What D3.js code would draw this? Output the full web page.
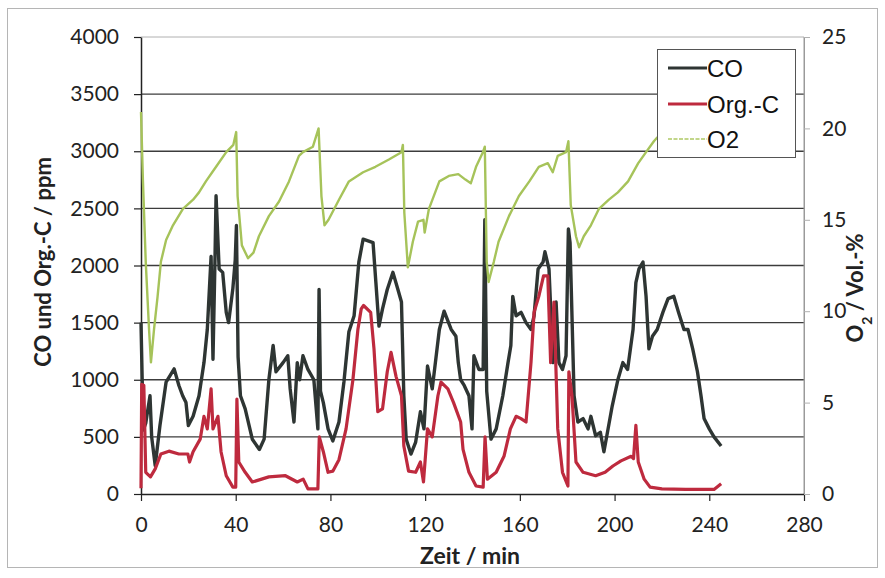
<!DOCTYPE html>
<html>
<head>
<meta charset="utf-8">
<script src="https://cdn.jsdelivr.net/npm/d3@7"></script>
<style>
  body { margin: 0; background: #fff; }
  svg { display: block; }
</style>
</head>
<body>
<div id="container"></div>
<script>
const width = 885;
const height = 578;

// time in min, CO in ppm
const coData = [
  [0,1500],[0.5,1000],[1,560],[2,620],[3.8,860],[4.5,500],[6,250],[8,600],[10.6,980],[14,1095],
  [16,950],[17.6,860],[19,800],[20,600],[22,680],[24.5,860],[26.6,1150],[28,1440],[29.6,2080],[30.4,1180],
  [31.2,2000],[31.7,2610],[33,1970],[34.5,1940],[36,1590],[37,1500],[38.8,1800],[39.8,2050],[40.3,2350],[41,1200],
  [42,860],[44,745],[47,480],[50,390],[52,480],[54,1000],[55.8,1300],[57,1070],[60,1150],[62,1210],
  [63,920],[64.6,630],[66,1150],[67,1000],[68.4,1210],[70.5,1090],[73,1000],[74.7,570],[75.2,1790],[75.8,900],
  [77,800],[79,570],[81,465],[83.6,630],[85.7,980],[87.8,1420],[90,1560],[92,2030],[93.8,2230],[98,2200],
  [99.2,1850],[100.5,1470],[102,1620],[104,1790],[106.4,1940],[108.5,1790],[110,1680],[111,860],[112,480],[114,350],
  [116,455],[118,720],[119.5,570],[121,1120],[123,920],[126,1440],[128,1600],[131,1440],[133,1380],[134,1150],
  [135,1000],[136.5,950],[138.5,860],[139.8,570],[140.6,1210],[142.7,1090],[144.5,1090],[145.2,2400],[146,900],[147.8,480],
  [150,570],[152.8,860],[155,1150],[156.2,1300],[157,1730],[158.4,1560],[160.5,1590],[162.6,1500],[164.7,1440],[166,1560],
  [167.7,1970],[169.8,2030],[170.6,2120],[172.3,1970],[174,1150],[175.3,1680],[176.5,1150],[178,1090],[179.5,1210],[180.5,2320],
  [181.2,2200],[182.9,860],[184.5,630],[186.7,660],[188.8,570],[190,680],[192,510],[194,540],[195.5,370],[197,540],
  [199,770],[201.4,1000],[203.5,1150],[205.5,1090],[207.8,1440],[209,1850],[210.3,1970],[212,2030],[213.3,1730],[214.5,1270],
  [216,1380],[218,1440],[220.4,1590],[222.6,1710],[225,1730],[227,1590],[229.3,1440],[231,1440],[233,1270],[235,1070],
  [236.5,860],[237.8,660],[240,570],[242,500],[245,420]
];

// time in min, Org.-C in ppm
const orgData = [
  [0,50],[0.3,960],[1.2,950],[2,190],[4,150],[6,220],[8.4,350],[11.8,375],[16,350],[19.8,350],
  [20.5,280],[22,370],[25,480],[26.6,680],[28,570],[29.6,920],[30.4,570],[32.5,680],[33.8,370],[36,160],
  [38.8,60],[40,60],[40.5,830],[41.3,280],[44,190],[47,105],[54,150],[61,160],[66,105],[68.5,130],
  [70.5,45],[74.7,45],[75.3,500],[77,370],[79,190],[81,200],[83.6,300],[86.6,570],[89.5,1000],[91.6,1440],
  [93,1620],[94,1650],[97,1590],[98.4,1270],[100,720],[102,745],[104,1070],[105.6,1240],[107.7,1030],[110,860],
  [111,420],[113,200],[116,190],[118,280],[119.3,105],[121,570],[123,500],[125.4,860],[126.7,980],[129.6,920],
  [132,800],[135,630],[136,390],[138.5,190],[141.5,70],[144.5,60],[145.3,500],[146.3,130],[150,190],[153.3,330],
  [156,570],[158.4,680],[160.5,660],[162.6,630],[164.7,1150],[166,1590],[168,1730],[170,1910],[171.8,1910],[173,1150],
  [174.4,1680],[176,570],[178,190],[180.3,70],[180.7,1070],[182,860],[183.7,280],[186.7,190],[192,160],[196,190],
  [199.3,245],[202.7,290],[207,330],[208,310],[209,600],[210,280],[212.5,130],[215,60],[220,45],[230,40],
  [242,40],[245,90]
];

// time in min, O2 in Vol.-%
const o2Data = [
  [0,20.9],[0.8,17.2],[2,12.7],[3.4,9.0],[4.2,7.2],[5.5,9.0],[7,10.8],[8.4,12.7],[10.6,13.9],[13.5,14.7],
  [17.7,15.6],[22,16.1],[24.5,16.5],[27.4,17.1],[31.7,17.9],[36,18.7],[39,19.1],[40.2,19.8],[40.8,16.3],[42.6,13.6],
  [45.2,12.9],[47.5,13.2],[49.8,14.1],[54,15.2],[58.3,16.0],[62.5,17.1],[66.7,18.5],[68.4,18.7],[72.6,19.0],[75,20.0],
  [76.2,16.3],[77.5,14.7],[79.2,15.0],[83.6,16.1],[87.8,17.1],[93.8,17.6],[99,17.9],[104.7,18.3],[110,18.7],[110.6,19.1],
  [111.2,15.4],[112.7,12.4],[114.8,13.8],[117,14.9],[119.3,15.0],[119.8,14.3],[121.6,15.6],[126,17.1],[130,17.4],[134,17.5],
  [137,17.2],[139.3,17.0],[141.5,17.9],[144.4,18.7],[145.2,19.0],[146,12.7],[146.8,11.6],[149,12.7],[151,13.8],[155.4,15.2],
  [159.6,16.3],[164,17.1],[168,17.9],[171.8,18.1],[173.9,17.6],[176,18.5],[179.5,18.7],[180.5,19.3],[181.5,15.8],[183.7,14.1],
  [185,13.5],[187,14.1],[190,14.7],[193.4,15.6],[197.6,16.1],[201.4,16.5],[205.7,17.1],[210,18.1],[213.3,18.7],[216.6,19.3],
  [218,19.5],[224,19.9]
];

const xTicks = [0, 40, 80, 120, 160, 200, 240, 280];
const yLeftTicks = [0, 500, 1000, 1500, 2000, 2500, 3000, 3500, 4000];
const yRightTicks = [0, 5, 10, 15, 20, 25];

const series = [
  { name: "CO", data: coData, color: "#2e3533", width: 3.4, axis: "left" },
  { name: "Org.-C", data: orgData, color: "#be2a3e", width: 3.2, axis: "left" },
  { name: "O2", data: o2Data, color: "#a6c35a", width: 2.4, axis: "right" }
];

const plot = { left: 141, right: 804, top: 37, bottom: 494 };

const x = d3.scaleLinear().domain([0, 280]).range([plot.left, plot.right]);
const yL = d3.scaleLinear().domain([0, 4000]).range([plot.bottom, plot.top]);
const yR = d3.scaleLinear().domain([0, 25]).range([plot.bottom, plot.top]);

const svg = d3.select("#container")
  .append("svg")
  .attr("width", width)
  .attr("height", height)
  .attr("viewBox", [0, 0, width, height]);

svg.append("rect").attr("width", width).attr("height", height).attr("fill", "#fff");

// outer chart frame
svg.append("rect")
  .attr("x", 7.5).attr("y", 8.5)
  .attr("width", 870).attr("height", 559)
  .attr("fill", "none")
  .attr("stroke", "#b5b5b5");

// horizontal grid
svg.append("g")
  .selectAll("line")
  .data(yLeftTicks.filter(d => d > 0))
  .join("line")
  .attr("x1", plot.left).attr("x2", plot.right)
  .attr("y1", d => yL(d)).attr("y2", d => yL(d))
  .attr("stroke", d => d === 4000 ? "#b0b0b0" : "#3c3c3c")
  .attr("stroke-width", d => d === 4000 ? 1 : 1.4);

// right border of plot
svg.append("line")
  .attr("x1", plot.right).attr("x2", plot.right)
  .attr("y1", plot.top).attr("y2", plot.bottom)
  .attr("stroke", "#9a9a9a");

const tickFont = "Lato, 'Open Sans', sans-serif";
const fmt = d3.format("d");

const gLeft = svg.append("g")
  .attr("transform", `translate(${plot.left},0)`)
  .call(d3.axisLeft(yL).tickValues(yLeftTicks).tickFormat(fmt).tickSize(7).tickPadding(15).tickSizeOuter(0));

const gBottom = svg.append("g")
  .attr("transform", `translate(0,${plot.bottom})`)
  .call(d3.axisBottom(x).tickValues(xTicks).tickFormat(fmt).tickSize(7).tickPadding(16).tickSizeOuter(0));

const gRight = svg.append("g")
  .attr("transform", `translate(${plot.right},0)`)
  .call(d3.axisRight(yR).tickValues(yRightTicks).tickFormat(fmt).tickSize(6).tickPadding(12).tickSizeOuter(0));

[gLeft, gBottom, gRight].forEach(g => {
  g.selectAll("text")
    .attr("font-family", tickFont)
    .attr("font-size", 21)
    .attr("fill", "#222");
});
gLeft.select(".domain").attr("stroke", "#222").attr("stroke-width", 1.5);
gLeft.selectAll(".tick line").attr("stroke", "#222").attr("stroke-width", 1.2);
gBottom.select(".domain").attr("stroke", "#222").attr("stroke-width", 1.5);
gBottom.selectAll(".tick line").attr("stroke", "#222").attr("stroke-width", 1.2);
gRight.select(".domain").attr("stroke", "#9a9a9a");
gRight.selectAll(".tick line").attr("stroke", "#b0b0b0");

// series
series.forEach(s => {
  const y = s.axis === "left" ? yL : yR;
  const line = d3.line().x(d => x(d[0])).y(d => y(d[1]));
  svg.append("path")
    .datum(s.data)
    .attr("fill", "none")
    .attr("stroke", s.color)
    .attr("stroke-width", s.width)
    .attr("stroke-linejoin", "round")
    .attr("d", line);
});

// axis titles
const titleFont = "Lato, 'Open Sans', sans-serif";

svg.append("text")
  .attr("transform", "translate(43,262) rotate(-90)")
  .attr("text-anchor", "middle")
  .attr("dy", "0.35em")
  .attr("font-family", titleFont)
  .attr("font-weight", "bold")
  .attr("font-size", 22)
  .attr("fill", "#222")
  .text("CO und Org.-C / ppm");

const rt = svg.append("text")
  .attr("transform", "translate(855,288) rotate(-90)")
  .attr("text-anchor", "middle")
  .attr("dy", "0.35em")
  .attr("font-family", titleFont)
  .attr("font-weight", "bold")
  .attr("font-size", 22)
  .attr("fill", "#222");
rt.append("tspan").text("O");
rt.append("tspan").attr("font-size", 14).attr("baseline-shift", "sub").text("2");
rt.append("tspan").text(" / Vol.-%");

svg.append("text")
  .attr("x", 470).attr("y", 556)
  .attr("text-anchor", "middle")
  .attr("dy", "0.35em")
  .attr("font-family", titleFont)
  .attr("font-weight", "bold")
  .attr("font-size", 23)
  .attr("fill", "#222")
  .text("Zeit / min");

// legend
const legend = svg.append("g");
legend.append("rect")
  .attr("x", 657.5).attr("y", 49.5)
  .attr("width", 138).attr("height", 108)
  .attr("fill", "#fff")
  .attr("stroke", "#555");

const legendY = [68, 104, 139];
series.forEach((s, i) => {
  legend.append("line")
    .attr("x1", 668).attr("x2", 707)
    .attr("y1", legendY[i]).attr("y2", legendY[i])
    .attr("stroke", s.name === "O2" ? "#c2d68a" : s.color)
    .attr("stroke-width", s.name === "O2" ? 2.2 : 3)
    .attr("stroke-dasharray", s.name === "O2" ? "4,1.5" : null);
  legend.append("text")
    .attr("x", 707).attr("y", legendY[i])
    .attr("dy", "0.36em")
    .attr("font-family", "'Liberation Sans', Arial, sans-serif")
    .attr("font-size", 24)
    .attr("fill", "#111")
    .text(s.name);
});
</script>
</body>
</html>
